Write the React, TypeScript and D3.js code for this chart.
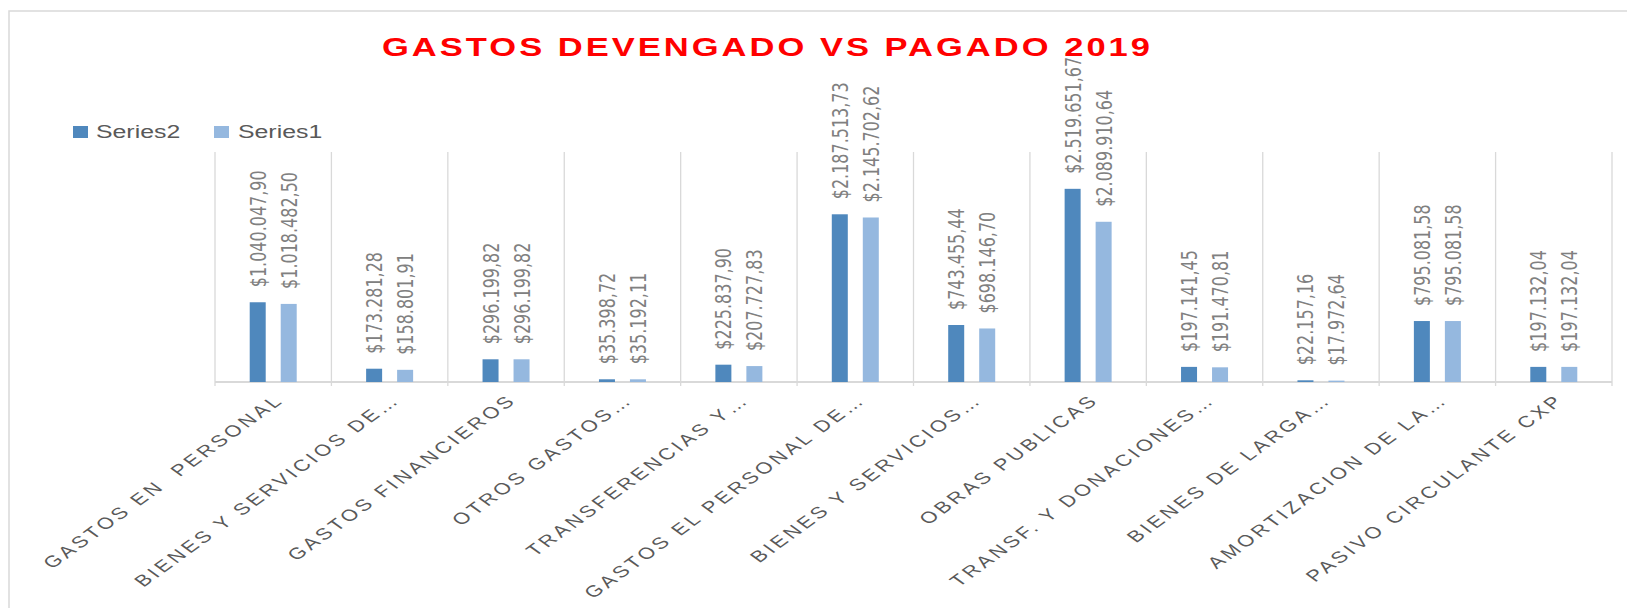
import * as d3 from 'd3';
import React from 'react';

// picture is stretched horizontally, so draw in a narrower viewBox and let it stretch
const SX = 1.38;
const W = 1627;
const H = 608;
const fx = (x: number): number => x / SX;

const categories = [
  "GASTOS EN  PERSONAL",
  "BIENES Y SERVICIOS DE…",
  "GASTOS FINANCIEROS",
  "OTROS GASTOS…",
  "TRANSFERENCIAS Y…",
  "GASTOS EL PERSONAL DE…",
  "BIENES Y SERVICIOS…",
  "OBRAS PUBLICAS",
  "TRANSF. Y DONACIONES…",
  "BIENES DE LARGA…",
  "AMORTIZACION DE LA…",
  "PASIVO CIRCULANTE CXP",
];

const series2 = [
  1040047.90, 173281.28, 296199.82, 35398.72, 225837.90, 2187513.73,
  743455.44, 2519651.67, 197141.45, 22157.16, 795081.58, 197132.04,
];

const series1 = [
  1018482.50, 158801.91, 296199.82, 35192.11, 207727.83, 2145702.62,
  698146.70, 2089910.64, 191470.81, 17972.64, 795081.58, 197132.04,
];

const seriesNames = ["Series2", "Series1"];
const colors = ["#4f88bd", "#95b8df"];

const locale = d3.formatLocale({
  decimal: ",",
  thousands: ".",
  grouping: [3],
  currency: ["$", ""],
});
const money = locale.format("$,.2f");

function App(): any {
  const x = d3.scaleBand().domain(categories).range([fx(215), fx(1612)]);
  const y = d3.scaleLinear().domain([0, 3000000]).range([382, 152]);

  const bw = fx(16);
  const gap = fx(15);
  const all = [series2, series1];

  const bounds = categories.map((c) => x(c) as number).concat([fx(1612)]);

  return (
    <svg
      width={W}
      height={H}
      viewBox={"0 0 " + W / SX + " " + H}
      preserveAspectRatio="none"
      style={{ position: "absolute", left: 0, top: 0, background: "#fff" }}
    >
      <rect x={fx(9)} y={11} width={W} height={H} fill="none"
        stroke="#d9d9d9" strokeWidth={1.5} vectorEffect="non-scaling-stroke" />

      <text x={fx(382)} y={56} fontFamily="'Liberation Sans Narrow', 'Liberation Sans', sans-serif"
        fontWeight="bold" fontSize={25} fill="#ff0000"
        textLength={fx(1150) - fx(382)} lengthAdjust="spacing">
        GASTOS DEVENGADO VS PAGADO 2019
      </text>

      {/* legend */}
      <g fontFamily="'Liberation Sans', Arial, sans-serif" fontSize={18} fill="#595959">
        <rect x={fx(73)} y={126} width={fx(15)} height={12} fill={colors[0]} />
        <text x={fx(96)} y={138}>{seriesNames[0]}</text>
        <rect x={fx(214)} y={126} width={fx(15)} height={12} fill={colors[1]} />
        <text x={fx(238)} y={138}>{seriesNames[1]}</text>
      </g>

      {/* gridlines */}
      {bounds.map((bx, i) => (
        <line key={"g" + i} x1={bx} x2={bx} y1={152} y2={386}
          stroke="#d9d9d9" strokeWidth={1.3} vectorEffect="non-scaling-stroke" />
      ))}
      <line x1={fx(215)} x2={fx(1612)} y1={382} y2={382}
        stroke="#d9d9d9" strokeWidth={1.8} vectorEffect="non-scaling-stroke" />

      {/* bars */}
      {all.map((s, si) =>
        s.map((v, i) => {
          const c = (x(categories[i]) as number) + x.bandwidth() / 2;
          const bx = si === 0 ? c - gap / 2 - bw : c + gap / 2;
          return (
            <rect key={"b" + si + "-" + i} x={bx} y={y(v)} width={bw}
              height={y(0) - y(v)} fill={colors[si]} />
          );
        })
      )}

      {/* value labels */}
      {all.map((s, si) =>
        s.map((v, i) => {
          const c = (x(categories[i]) as number) + x.bandwidth() / 2;
          const lx = si === 0 ? c - gap / 2 - bw / 2 : c + gap / 2 + bw / 2;
          return (
            <text key={"l" + si + "-" + i}
              transform={"translate(" + lx + "," + (y(v) - 15) + ") rotate(-90)"}
              dy="0.36em" fontFamily="'DejaVu Sans', sans-serif" fontSize={16}
              fill="#808080">
              {money(v)}
            </text>
          );
        })
      )}

      {/* category labels */}
      {categories.map((cat, i) => {
        const c = (x(cat) as number) + x.bandwidth() / 2;
        return (
          <text key={"c" + i}
            transform={"translate(" + (c + 8.5) + "," + 401 + ") rotate(-45)"}
            textAnchor="end" fontFamily="'Liberation Sans', Arial, sans-serif"
            fontSize={16} letterSpacing={2.6} fill="#595959"
            style={{ whiteSpace: "pre" }}>
            {cat}
          </text>
        );
      })}
    </svg>
  );
}

export default App;
